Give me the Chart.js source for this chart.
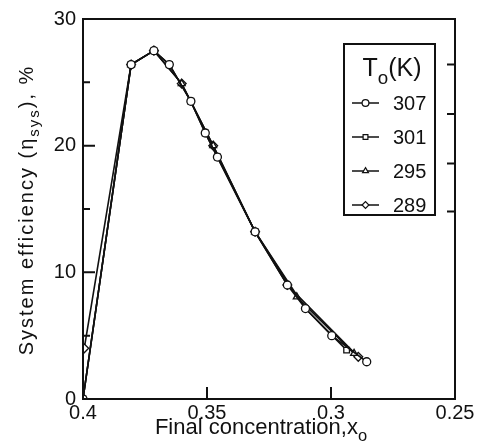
<!DOCTYPE html>
<html>
<head>
<meta charset="utf-8">
<script src="https://cdn.jsdelivr.net/npm/chart.js@4.4.0/dist/chart.umd.min.js"></script>
<style>
  html, body { margin: 0; padding: 0; background: #fff; }
  #wrap { width: 479px; height: 445px; }
</style>
</head>
<body>
<div id="wrap"><canvas id="effChart" width="479" height="445"></canvas></div>
<script>
// data (x = final concentration, y = system efficiency %)
var seriesLabels = ['307', '301', '295', '289'];
var conc307 = [0.4, 0.3806, 0.3714, 0.3652, 0.3565, 0.3507, 0.3458, 0.3306, 0.3176, 0.3103, 0.2997, 0.2856];
var eff307  = [0,   26.4,   27.5,   26.4,   23.5,   21.0,   19.1,   13.2,   9.0,    7.14,   5.0,    2.94];
var conc301 = [0.4, 0.3806, 0.3714, 0.3652, 0.3565, 0.3507, 0.3458, 0.3306, 0.3103, 0.2937];
var eff301  = [0,   26.4,   27.5,   26.4,   23.5,   21.0,   19.1,   13.2,   7.14,   3.86];
var conc295 = [0.4, 0.3806, 0.3714, 0.3602, 0.3475, 0.3306, 0.3138, 0.2907];
var eff295  = [0,   26.4,   27.5,   24.9,   20.0,   13.2,   8.06,   3.6];
var conc289 = [0.3995, 0.3806, 0.3714, 0.3602, 0.3475, 0.3306, 0.3176, 0.289];
var eff289  = [4.0,    26.4,   27.5,   24.9,   20.0,   13.2,   9.0,    3.33];
var xTicks = [0.4, 0.35, 0.3, 0.25];
var yTicks = [0, 10, 20, 30];
var yMinorTicks = [5, 15, 25];
var rightTicks = [26.4, 22.5, 18.6, 14.8];
var markerStyles = ['circle', 'rect', 'triangle', 'rectRot'];

var FONT = '"Liberation Sans", Arial, sans-serif';
var INK = '#111';

function pts(xs, ys) {
  return xs.map(function(v, i) { return { x: v, y: ys[i] }; });
}

function makeSet(idx, xs, ys) {
  return {
    label: seriesLabels[idx],
    data: pts(xs, ys),
    borderColor: INK,
    borderWidth: 1.6,
    tension: 0,
    pointStyle: markerStyles[idx],
    pointRadius: markerStyles[idx] == 'rectRot' ? 4.4 : 4,
    pointBackgroundColor: '#fff',
    pointBorderColor: INK,
    pointBorderWidth: 1.3
  };
}

// text with a subscript part, e.g. [['T'], ['o', true], ['(K)']]
function richWidth(ctx, parts, size) {
  var w = 0;
  parts.forEach(function(p) {
    ctx.font = (p[1] ? size * 0.75 : size) + 'px ' + FONT;
    w += ctx.measureText(p[0]).width;
  });
  return w;
}
function drawRich(ctx, parts, size, cx, baseY) {
  var x = cx - richWidth(ctx, parts, size) / 2;
  ctx.textAlign = 'left';
  ctx.textBaseline = 'alphabetic';
  parts.forEach(function(p) {
    var s = p[1] ? size * 0.75 : size;
    ctx.font = s + 'px ' + FONT;
    ctx.fillText(p[0], x, p[1] ? baseY + size * 0.3 : baseY);
    x += ctx.measureText(p[0]).width;
  });
}

var framePlugin = {
  id: 'frame',
  afterDraw: function(chart) {
    var ctx = chart.ctx, a = chart.chartArea;
    var xs = chart.scales.x, ys = chart.scales.y;
    ctx.save();
    ctx.strokeStyle = INK;
    ctx.fillStyle = INK;
    ctx.lineWidth = 2;
    ctx.strokeRect(a.left, a.top, a.right - a.left, a.bottom - a.top);

    // inward ticks
    ctx.beginPath();
    yTicks.concat(yMinorTicks).forEach(function(v) {
      var py = ys.getPixelForValue(v);
      var len = yMinorTicks.indexOf(v) >= 0 ? 7 : 12;
      ctx.moveTo(a.left, py); ctx.lineTo(a.left + len, py);
    });
    xTicks.forEach(function(v) {
      var px = xs.getPixelForValue(v);
      ctx.moveTo(px, a.bottom); ctx.lineTo(px, a.bottom - 12);
    });
    rightTicks.forEach(function(v) {
      var py = ys.getPixelForValue(v);
      ctx.moveTo(a.right, py); ctx.lineTo(a.right - 8, py);
    });
    ctx.stroke();

    // axis titles
    drawRich(ctx, [['Final concentration,x'], ['o', true]], 22, 261, 434);
    ctx.save();
    ctx.translate(33, 210);
    ctx.rotate(-Math.PI / 2);
    ctx.letterSpacing = '2px';
    drawRich(ctx, [['System efficiency (\u03b7'], ['sys', true], ['), %']], 20, 0, 0);
    ctx.letterSpacing = '0px';
    ctx.restore();

    // legend box
    var lx = 344, ly = 44, lw = 91, lh = 171;
    ctx.fillStyle = '#fff';
    ctx.fillRect(lx, ly, lw, lh);
    ctx.lineWidth = 2;
    ctx.strokeRect(lx, ly, lw, lh);
    ctx.fillStyle = INK;
    drawRich(ctx, [['T'], ['o', true], ['(K)']], 25, 392, 76);
    chart.data.datasets.forEach(function(ds, i) {
      var cy = 103 + i * 34;
      ctx.strokeStyle = INK;
      ctx.lineWidth = 1.5;
      ctx.beginPath();
      ctx.moveTo(352, cy); ctx.lineTo(379, cy);
      ctx.stroke();
      ctx.fillStyle = '#fff';
      ctx.lineWidth = 1.2;
      Chart.helpers.drawPoint(ctx, { pointStyle: ds.pointStyle, radius: 3.4, borderWidth: 1.2, rotation: 0 }, 365.5, cy);
      ctx.fillStyle = INK;
      ctx.font = '20px ' + FONT;
      ctx.textAlign = 'left';
      ctx.textBaseline = 'middle';
      ctx.fillText(ds.label, 393, cy + 1);
    });
    ctx.restore();
  }
};

new Chart(document.getElementById('effChart').getContext('2d'), {
  type: 'line',
  data: {
    datasets: [
      makeSet(0, conc307, eff307),
      makeSet(1, conc301, eff301),
      makeSet(2, conc295, eff295),
      makeSet(3, conc289, eff289)
    ]
  },
  options: {
    responsive: false,
    devicePixelRatio: 1,
    animation: false,
    layout: { padding: { left: 0, top: 17, right: 24, bottom: 0 } },
    plugins: { legend: { display: false }, tooltip: { enabled: false } },
    scales: {
      x: {
        type: 'linear',
        reverse: true,
        min: 0.25,
        max: 0.4,
        afterBuildTicks: function(s) { s.ticks = xTicks.map(function(v) { return { value: v }; }); },
        afterFit: function(s) { s.height = 46; },
        grid: { display: false, drawTicks: false },
        border: { display: false },
        ticks: {
          color: INK,
          padding: 2,
          maxRotation: 0,
          autoSkip: false,
          font: { family: FONT, size: 20 },
          callback: function(v) { return String(v); }
        }
      },
      y: {
        min: 0,
        max: 30,
        afterBuildTicks: function(s) { s.ticks = yTicks.map(function(v) { return { value: v }; }); },
        afterFit: function(s) { s.width = 83; },
        grid: { display: false, drawTicks: false },
        border: { display: false },
        ticks: {
          color: INK,
          padding: 7,
          font: { family: FONT, size: 20 },
          callback: function(v) { return String(v); }
        }
      }
    }
  },
  plugins: [framePlugin]
});
</script>
</body>
</html>
